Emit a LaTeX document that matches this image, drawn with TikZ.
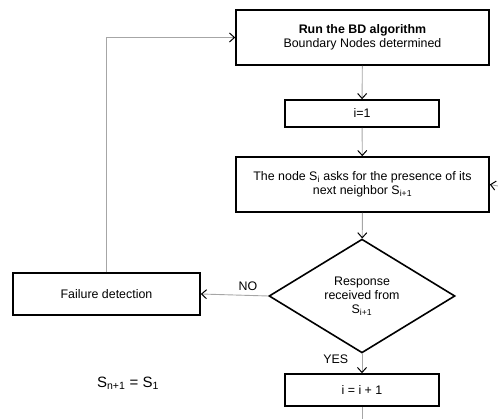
\documentclass[tikz,border=0pt]{standalone}
\usepackage{fontspec}
\setmainfont{Liberation Sans}
\usepackage{tikz}
\usetikzlibrary{shapes.geometric, positioning, calc, arrows.meta}

\begin{document}
\begin{tikzpicture}[x=1pt, y=-1pt,
    font=\fontsize{12.4}{14}\selectfont,
    block/.style={draw=black, line width=1.6pt, rectangle, align=center, inner sep=0pt},
    decision/.style={draw=black, line width=1.6pt, diamond, align=center, inner sep=0pt},
    link/.style={draw=gray!70, line width=0.9pt, -{Straight Barb[length=5pt, width=9pt, line width=1pt, color=black]}}]

    \useasboundingbox (0,0) rectangle (498,419);

    % Main column of the flow chart
    \node[block, minimum width=253pt, minimum height=55pt] (run) at (362.5,37.5)
        {\textbf{Run the BD algorithm}\\Boundary Nodes determined};
    \node[block, minimum width=154pt, minimum height=27pt] (init) at (362,113.5) {i=1};
    \node[block, minimum width=253pt, minimum height=55pt] (ask) at (362.5,184.5)
        {The node S\textsubscript{i} asks for the presence of its\\next neighbor S\textsubscript{i+1}};
    \node[decision, minimum width=186pt, minimum height=105pt] (resp) at (362,296)
        {Response\\received from\\S\textsubscript{i+1}};
    \node[block, minimum width=154pt, minimum height=32pt] (incr) at (362,390) {i = i + 1};

    % Failure branch
    \node[block, minimum width=187pt, minimum height=42pt] (fail) at (106.5,294) {Failure detection};

    % Side note
    \node[font=\fontsize{15}{17}\selectfont] (wrap) at (128,383) {S\textsubscript{n+1} = S\textsubscript{1}};

    % Loose ends of the loop
    \coordinate (loopout) at (362,419);
    \coordinate (loopin) at (498,186);

    % Connectors
    \draw[link] (run) -- (init);
    \draw[link] (init) -- (ask);
    \draw[link] (ask) -- (resp);
    \draw[link] (resp.west) -- node[above, pos=0.3, yshift=1pt] {NO} (fail.east);
    \draw[link] (resp.south) -- node[left, pos=0.27, xshift=-10pt] {YES} (incr.north);
    \draw[link] (fail.north) |- (run.west);
    \draw[link, -] (incr) -- (loopout);
    \draw[link] (loopin) -- (ask.east);

\end{tikzpicture}
\end{document}
